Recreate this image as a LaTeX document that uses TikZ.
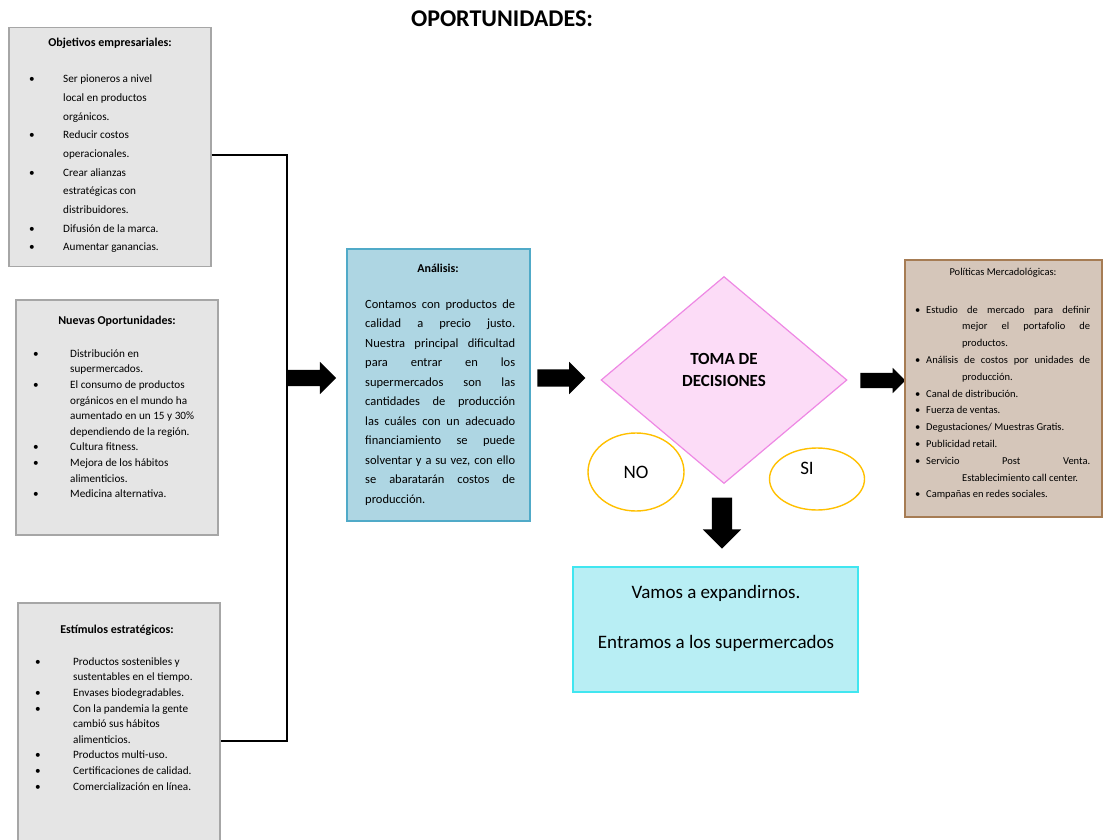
\documentclass[tikz,border=0pt]{standalone}
\usepackage{fontspec}
\setmainfont{Carlito}
\usetikzlibrary{shapes.geometric,shapes.arrows}
\definecolor{anafill}{RGB}{174,214,227}
\definecolor{analine}{RGB}{80,170,200}
\definecolor{decfill}{RGB}{252,220,247}
\definecolor{decline}{RGB}{238,136,228}
\definecolor{ansline}{RGB}{255,192,0}
\definecolor{resfill}{RGB}{184,238,244}
\definecolor{resline}{RGB}{64,230,240}
\definecolor{polfill}{RGB}{213,198,186}
\definecolor{polline}{RGB}{166,124,84}
\newcommand{\itm}[1]{\makebox[#1][l]{\textbullet}}
\begin{document}
\begin{tikzpicture}[x=1pt,y=-1pt,
    graybox/.style={rectangle,draw=gray!70,fill=gray!20,line width=1.2pt,inner sep=0pt},
    boxtitle/.style={anchor=base,inner sep=0pt,font=\bfseries\fontsize{12}{14}\selectfont},
    listtext/.style={anchor=north west,align=left,inner sep=0pt},
    blockarrow/.style={single arrow,fill=black,inner xsep=0pt,inner ysep=8pt,single arrow head extend=8pt,
        minimum height=48pt},
    answer/.style={ellipse,draw=ansline,fill=white,line width=1.4pt,inner sep=0pt,
        font=\fontsize{19}{22}\selectfont}]
\useasboundingbox (0,0) rectangle (1105,840);

\node[font=\bfseries\fontsize{24}{28}\selectfont] (title) at (502,19) {OPORTUNIDADES:};

% left column
\node[graybox,minimum width=202pt,minimum height=239pt] (obj) at (110,147) {};
\node[graybox,minimum width=202pt,minimum height=235pt] (nue) at (117,417.5) {};
\node[graybox,minimum width=202pt,minimum height=246pt] (est) at (119,726) {};

\node[boxtitle] (objt) at (110,47) {Objetivos empresariales:};
\node[listtext,font=\fontsize{11.2}{18.7}\selectfont] (objl) at (29,69.4) {\strut\itm{34pt}Ser pioneros a nivel\\
    \hspace*{34pt}local en productos\\
    \hspace*{34pt}orgánicos.\\
    \itm{34pt}Reducir costos\\
    \hspace*{34pt}operacionales.\\
    \itm{34pt}Crear alianzas\\
    \hspace*{34pt}estratégicas con\\
    \hspace*{34pt}distribuidores.\\
    \itm{34pt}Difusión de la marca.\\
    \itm{34pt}Aumentar ganancias.};

\node[boxtitle] (nuet) at (117,324) {Nuevas Oportunidades:};
\node[listtext,font=\fontsize{11.2}{15.6}\selectfont] (nuel) at (33,346.1) {\strut\itm{37pt}Distribución en\\
    \hspace*{37pt}supermercados.\\
    \itm{37pt}El consumo de productos\\
    \hspace*{37pt}orgánicos en el mundo ha\\
    \hspace*{37pt}aumentado en un 15 y 30\%\\
    \hspace*{37pt}dependiendo de la región.\\
    \itm{37pt}Cultura fitness.\\
    \itm{37pt}Mejora de los hábitos\\
    \hspace*{37pt}alimenticios.\\
    \itm{37pt}Medicina alternativa.};

\node[boxtitle] (estt) at (117,633) {Estímulos estratégicos:};
\node[listtext,font=\fontsize{11.2}{15.6}\selectfont] (estl) at (35,654.1) {\strut\itm{38pt}Productos sostenibles y\\
    \hspace*{38pt}sustentables en el tiempo.\\
    \itm{38pt}Envases biodegradables.\\
    \itm{38pt}Con la pandemia la gente\\
    \hspace*{38pt}cambió sus hábitos\\
    \hspace*{38pt}alimenticios.\\
    \itm{38pt}Productos multi-uso.\\
    \itm{38pt}Certificaciones de calidad.\\
    \itm{38pt}Comercialización en línea.};

% bracket into the analysis
\coordinate (jt) at (287,155);
\coordinate (jb) at (287,741);
\draw[line width=1.8pt] (obj.east |- jt) -- (jt) -- (jb) -- (est.east |- jb);
\node[blockarrow] (a1) at (308,378) {};

% analysis
\node[rectangle,draw=analine,fill=anafill,line width=1.2pt,minimum width=183pt,minimum height=272pt] (ana) at (438.5,385) {};
\node[boxtitle] (anat) at (438,272) {Análisis:};
\node[listtext,font=\fontsize{12.5}{19.5}\selectfont] (anal) at (365,294.4) {\strut\makebox[150pt][s]{Contamos con productos de}\\
    \makebox[150pt][s]{calidad a precio justo.}\\
    \makebox[150pt][s]{Nuestra principal dificultad}\\
    \makebox[150pt][s]{para entrar en los}\\
    \makebox[150pt][s]{supermercados son las}\\
    \makebox[150pt][s]{cantidades de producción}\\
    \makebox[150pt][s]{las cuáles con un adecuado}\\
    \makebox[150pt][s]{financiamiento se puede}\\
    \makebox[150pt][s]{solventar y a su vez, con ello}\\
    \makebox[150pt][s]{se abaratarán costos de}\\
    producción.};

\node[blockarrow,inner ysep=8.5pt,single arrow head extend=7.5pt] (a2) at (557,378) {};

% decision
\node[diamond,draw=decline,fill=decfill,line width=1.2pt,inner sep=0pt,minimum width=246pt,minimum height=207pt,
    label={[align=center,font=\bfseries\fontsize{17}{22}\selectfont,yshift=10pt]center:TOMA DE\\DECISIONES}] (dec) at (724,380) {};
\node[answer,minimum width=96pt,minimum height=78pt] (no) at (636,472) {NO};
\node[answer,minimum width=95pt,minimum height=62pt,label={[font=\fontsize{19}{22}\selectfont,xshift=-10pt,yshift=11pt]center:SI}] (si) at (817,479) {};

\node[blockarrow,minimum height=51pt,inner ysep=10pt,single arrow head extend=9pt,rotate=-90] (a4) at (722,518) {};

% result
\node[rectangle,draw=resline,fill=resfill,line width=1.2pt,minimum width=285pt,minimum height=125pt] (res) at (715.5,629.5) {};
\node[anchor=north,align=center,inner sep=0pt,font=\fontsize{19}{50}\selectfont] (rest) at (716,563) {\strut Vamos a expandirnos.\\Entramos a los supermercados};

% marketing
\node[blockarrow,minimum height=45pt,inner ysep=7.5pt,single arrow head extend=5pt] (a3) at (879,380.5) {};
\node[rectangle,draw=polline,fill=polfill,line width=1.5pt,minimum width=197pt,minimum height=257pt] (pol) at (1003.5,388.5) {};
\node[anchor=base,inner sep=0pt,font=\fontsize{10.5}{12}\selectfont] (polt) at (1003,275) {Políticas Mercadológicas:};
\node[listtext,font=\fontsize{10.5}{16.8}\selectfont] (poll) at (915,301.2) {\strut\itm{11pt}\makebox[164pt][s]{Estudio de mercado para definir}\\
    \hspace*{47pt}\makebox[128pt][s]{mejor el portafolio de}\\
    \hspace*{47pt}productos.\\
    \itm{11pt}\makebox[164pt][s]{Análisis de costos por unidades de}\\
    \hspace*{47pt}producción.\\
    \itm{11pt}Canal de distribución.\\
    \itm{11pt}Fuerza de ventas.\\
    \itm{11pt}Degustaciones/ Muestras Gratis.\\
    \itm{11pt}Publicidad retail.\\
    \itm{11pt}\makebox[164pt][s]{Servicio Post Venta.}\\
    \hspace*{47pt}Establecimiento call center.\\
    \itm{11pt}Campañas en redes sociales.};
\end{tikzpicture}
\end{document}
